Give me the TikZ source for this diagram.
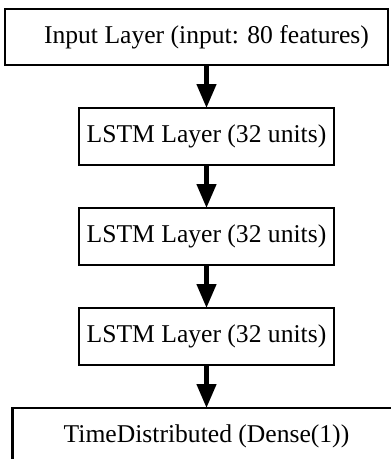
\documentclass[tikz,border=0pt]{standalone}
\usepackage{fontspec}
\setmainfont{Liberation Serif}
\usetikzlibrary{
  arrows.meta,
  positioning,  % Function "of" (e.g. [below=of x])
}
\def\mygap{43pt}
\tikzset{
  layer box/.style={
    draw,
    line width=2.7pt,
    outer sep=0pt,
    minimum height=57pt,
    inner sep=0pt,
    font=\fontsize{25.6}{30}\selectfont
  },
  lstm box/.style={
    layer box,
    minimum width=255pt
  },
  flow/.style={
    line width=4.5pt,
    -{Triangle[length=24pt,width=19pt]}
  }
}
\begin{document}
\begin{tikzpicture}[x=1pt,y=-1pt,node distance=\mygap]
\useasboundingbox (0,0) rectangle (391,459);
\clip (0,0) rectangle (391,459);
\node[lstm box]   (lstm1) at (206.5,136.5) {LSTM Layer (32 units)};
\node[layer box,minimum width=383pt,minimum height=56pt]
                  (input) [above=of lstm1,xshift=-10pt]
                  {\hspace*{20pt}Input Layer (input: 80 features)};
\node[lstm box]   (lstm2) [below=of lstm1] {LSTM Layer (32 units)};
\node[lstm box]   (lstm3) [below=of lstm2] {LSTM Layer (32 units)};
\node[layer box,minimum width=388pt]
                  (dense) [below=of lstm3] {TimeDistributed (Dense(1))};
\draw[flow] (lstm1.north |- input.south) -- (lstm1);
\draw[flow] (lstm1) -- (lstm2);
\draw[flow] (lstm2) -- (lstm3);
\draw[flow] (lstm3) -- (dense);
\end{tikzpicture}
\end{document}
